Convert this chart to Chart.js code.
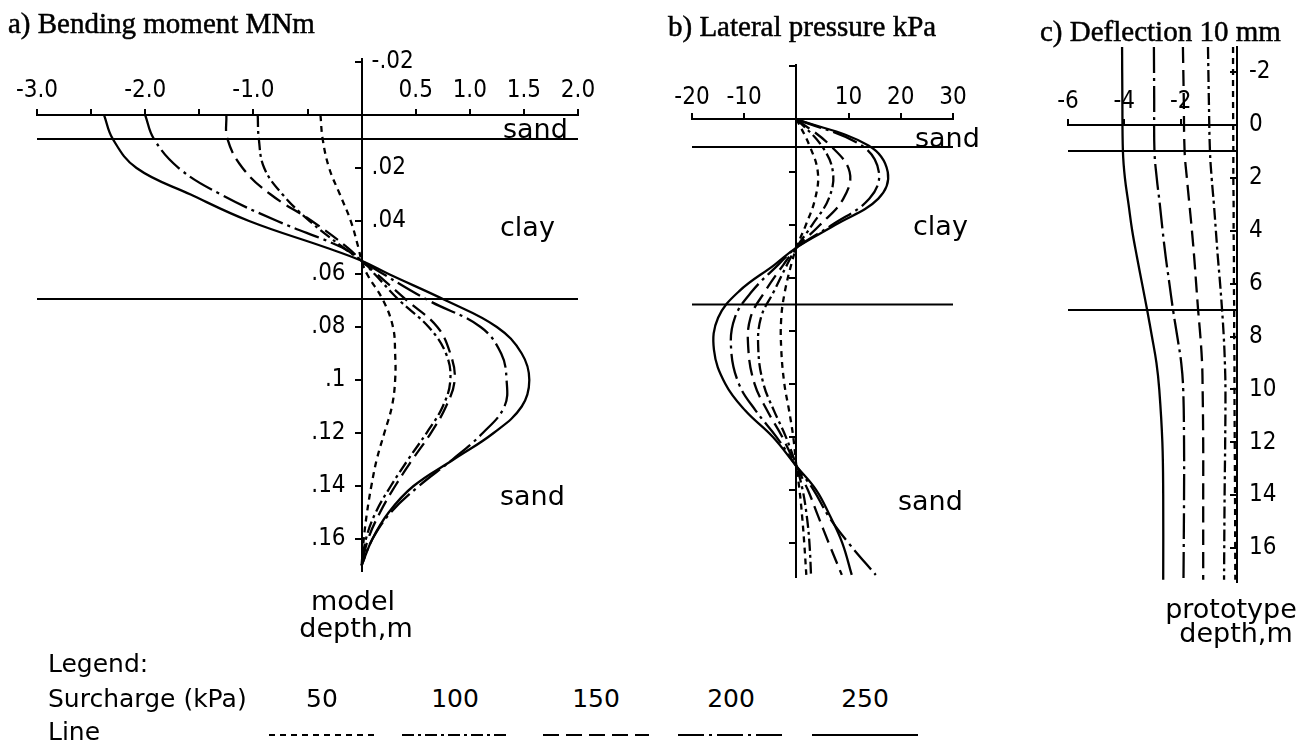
<!DOCTYPE html>
<html><head><meta charset="utf-8">
<script src="https://cdn.jsdelivr.net/npm/chart.js@4.4.1/dist/chart.umd.min.js"></script>
<style>
html,body{margin:0;padding:0;background:#fff;width:1308px;height:746px;overflow:hidden;position:relative}
canvas{position:absolute}
.t{position:absolute;white-space:nowrap;color:#000;line-height:1}
.title{font-family:'Liberation Serif','Times New Roman',serif;font-size:29px;line-height:29px;-webkit-text-stroke:0.5px #000}
.lbl{font-family:'DejaVu Sans',sans-serif;font-size:27px;line-height:27px}
.leg{font-family:'DejaVu Sans',sans-serif;font-size:25px;line-height:25px}
.c{transform:translateX(-50%)}
</style></head><body>
<canvas id="cA" width="640" height="660" style="left:0;top:0"></canvas>
<canvas id="cB" width="360" height="660" style="left:640px;top:0"></canvas>
<canvas id="cC" width="308" height="660" style="left:1000px;top:0"></canvas>
<canvas id="cL" width="1000" height="26" style="left:0;top:722px"></canvas>

<div class="t title" style="left:8px;top:9px">a) Bending moment MNm</div>
<div class="t title" style="left:668px;top:12px">b) Lateral pressure kPa</div>
<div class="t title" style="left:1040px;top:17px">c) Deflection 10 mm</div>

<div class="t lbl" style="left:503px;top:115px">sand</div>
<div class="t lbl" style="left:500px;top:213px">clay</div>
<div class="t lbl" style="left:500px;top:482px">sand</div>
<div class="t lbl" style="left:915px;top:124px">sand</div>
<div class="t lbl" style="left:913px;top:212px">clay</div>
<div class="t lbl" style="left:898px;top:487px">sand</div>
<div class="t lbl c" style="left:353px;top:587px">model</div>
<div class="t lbl c" style="left:356px;top:614px">depth,m</div>
<div class="t lbl c" style="left:1231px;top:595px">prototype</div>
<div class="t lbl c" style="left:1236px;top:619px">depth,m</div>

<div class="t leg" style="left:48px;top:651px">Legend:</div>
<div class="t leg" style="left:48px;top:686px">Surcharge (kPa)</div>
<div class="t leg" style="left:48px;top:719px">Line</div>
<div id="legNums"></div>

<script>
// ---------- data ----------
const surcharges = [50, 100, 150, 200, 250];
const lineDashes = [[6, 5], [12, 4, 3, 4], [16, 7], [26, 5, 3, 5], []];
const legendCenters = [322, 455, 596, 731, 865];

// a) Bending moment (MNm) vs model depth (m)
const depthA = [0, 0.009, 0.02, 0.03, 0.04, 0.05, 0.055, 0.06, 0.07, 0.08, 0.09, 0.10, 0.11, 0.12, 0.13, 0.14, 0.15, 0.16, 0.17];
const momA50  = [-0.38, -0.36, -0.30, -0.20, -0.10, -0.03, 0, 0.05, 0.20, 0.29, 0.31, 0.31, 0.28, 0.21, 0.14, 0.09, 0.05, 0.02, 0];
const momA100 = [-0.96, -0.95, -0.90, -0.73, -0.48, -0.17, 0, 0.12, 0.35, 0.62, 0.78, 0.82, 0.75, 0.60, 0.43, 0.27, 0.13, 0.04, 0];
const momA150 = [-1.25, -1.24, -1.10, -0.84, -0.46, -0.13, 0, 0.14, 0.42, 0.70, 0.82, 0.86, 0.78, 0.64, 0.47, 0.31, 0.17, 0.06, 0];
const momA200 = [-2.00, -1.92, -1.69, -1.30, -0.78, -0.18, 0, 0.20, 0.62, 1.10, 1.29, 1.34, 1.32, 1.12, 0.84, 0.53, 0.27, 0.10, 0];
const momA250 = [-2.38, -2.30, -2.08, -1.58, -1.04, -0.33, 0, 0.25, 0.78, 1.25, 1.48, 1.55, 1.48, 1.22, 0.85, 0.48, 0.25, 0.10, 0];
const layersA = [0.009, 0.0694];
const xTicksA = [-3, -2.5, -2, -1.5, -1, -0.5, 0, 0.5, 1, 1.5, 2];
const xLabelsA = ['-3.0', '', '-2.0', '', '-1.0', '', '', '0.5', '1.0', '1.5', '2.0'];
const yTicksA = [-0.02, 0, 0.02, 0.04, 0.06, 0.08, 0.10, 0.12, 0.14, 0.16];
const yLabelsA = ['-.02', '', '.02', '.04', '.06', '.08', '.1', '.12', '.14', '.16'];
const ySidesA = ['R', '', 'R', 'R', 'L', 'L', 'L', 'L', 'L', 'L'];

// b) Lateral pressure (kPa) vs prototype depth (m)
const depthB = [0, 1, 2, 3, 4, 4.85, 5.5, 6.5, 7.5, 8.7, 10, 11, 12, 13.1, 14, 15, 16, 17.2];
const presB50  = [0, 2.5, 4.1, 3.6, 1.8, 0, -1.0, -2.2, -2.9, -2.9, -2.3, -1.4, -0.6, 0, 0.6, 1.1, 1.5, 1.9];
const presB100 = [0, 4.8, 7.0, 6.2, 3.0, 0, -1.8, -4.3, -6.8, -7.3, -6.3, -4.3, -2.0, 0, 1.2, 2.0, 2.5, 2.8];
const presB150 = [0, 6.5, 10.2, 9.0, 4.5, 0, -2.5, -6.0, -8.8, -9.2, -8.0, -5.6, -2.7, 0, 2.2, 4.2, 6.2, 8.7];
const presB200 = [0, 12.5, 15.8, 14.0, 6.8, 0, -3.5, -8.5, -11.8, -12.5, -11.0, -7.8, -3.8, 0, 3.3, 6.2, 10.0, 15.2];
const presB250 = [0, 13.8, 17.5, 15.7, 7.4, 0, -4.2, -11.0, -15.0, -15.8, -13.6, -9.8, -4.5, 0, 3.8, 6.5, 8.8, 10.6];
const layersB = [1.05, 7.0];
const xTicksB = [-20, -10, 0, 10, 20, 30];
const xLabelsB = ['-20', '-10', '', '10', '20', '30'];
const yTicksB = [-2, 2, 4, 6, 8, 10, 12, 14, 16];

// c) Deflection (10 mm) vs prototype depth (m)
const depthC = [-2.95, -1, 1, 2, 3, 4, 5, 6, 7, 8, 9, 10, 12, 14, 17.2];
const deflC50  = [-0.14, -0.14, -0.13, -0.13, -0.12, -0.12, -0.11, -0.11, -0.10, -0.10, -0.09, -0.09, -0.08, -0.07, -0.06];
const deflC100 = [-1.03, -1.00, -0.96, -0.90, -0.82, -0.75, -0.68, -0.60, -0.53, -0.47, -0.43, -0.41, -0.42, -0.44, -0.46];
const deflC150 = [-1.92, -1.89, -1.86, -1.78, -1.69, -1.60, -1.52, -1.45, -1.38, -1.30, -1.24, -1.22, -1.20, -1.20, -1.20];
const deflC200 = [-2.95, -2.94, -2.93, -2.85, -2.74, -2.64, -2.53, -2.40, -2.27, -2.12, -1.98, -1.91, -1.88, -1.88, -1.90];
const deflC250 = [-4.08, -4.07, -4.05, -3.98, -3.85, -3.72, -3.55, -3.37, -3.19, -3.02, -2.86, -2.76, -2.65, -2.62, -2.62];
const layersC = [0.98, 7.0];
const xTicksC = [-6, -4, -2, 0];
const xLabelsC = ['-6', '-4', '-2', ''];
const yTicksC = [-2, 0, 2, 4, 6, 8, 10, 12, 14, 16];
const yLabelsC = ['-2', '0', '2', '4', '6', '8', '10', '12', '14', '16'];
const ySidesC = ['R', 'R', 'R', 'R', 'R', 'R', 'R', 'R', 'R', 'R'];

// ---------- drawing ----------
const NUM_FONT = "'DejaVu Sans Condensed','Liberation Sans Narrow','DejaVu Sans',sans-serif";
const NUM_SIZE = 24;

const depthLabelPlugin = {
  id: 'depthLabels',
  afterDraw(chart, args, opts) {
    if (!opts || !opts.values || !opts.values.length) return;
    const ctx = chart.ctx;
    const xs = chart.scales.x, ys = chart.scales.y;
    const x0 = xs.getPixelForValue(0);
    ctx.save();
    ctx.font = NUM_SIZE + 'px ' + NUM_FONT;
    ctx.fillStyle = '#000';
    ctx.textBaseline = 'middle';
    opts.values.forEach((v, i) => {
      const side = opts.sides[i];
      if (!side || !opts.texts[i]) return;
      const y = ys.getPixelForValue(v);
      if (side === 'L') { ctx.textAlign = 'right'; ctx.fillText(opts.texts[i], x0 - opts.gapL, y); }
      else { ctx.textAlign = 'left'; ctx.fillText(opts.texts[i], x0 + opts.gapR, y); }
    });
    ctx.restore();
  }
};

function curveSets(depth, seriesList, xmin, xmax, layers) {
  const sets = [];
  layers.forEach(d => sets.push({
    data: [{x: xmin, y: d}, {x: xmax, y: d}],
    showLine: true, borderColor: '#000', borderWidth: 2, pointRadius: 0, tension: 0
  }));
  seriesList.forEach((vals, i) => sets.push({
    label: surcharges[i] + ' kPa',
    data: vals.map((v, k) => ({x: v, y: depth[k]})),
    showLine: true, borderColor: '#000', borderWidth: 2.3, borderDash: lineDashes[i],
    pointRadius: 0, tension: 0.4, borderCapStyle: 'butt'
  }));
  return sets;
}

function makePanel(id, cfg) {
  return new Chart(document.getElementById(id), {
    type: 'scatter',
    data: {datasets: curveSets(cfg.depth, cfg.series, cfg.xmin, cfg.xmax, cfg.layers)},
    options: {
      responsive: false, animation: false, events: [],
      layout: {padding: cfg.padding},
      plugins: {
        legend: {display: false}, tooltip: {enabled: false},
        depthLabels: cfg.labels
      },
      scales: {
        x: {
          type: 'linear', min: cfg.xmin, max: cfg.xmax, position: {y: 0},
          afterBuildTicks: s => { s.ticks = cfg.xTicks.map(v => ({value: v})); },
          ticks: {autoSkip: false, maxRotation: 0, minRotation: 0, color: '#000',
                  font: {family: NUM_FONT, size: NUM_SIZE},
                  padding: cfg.xPad,
                  callback: (v, i) => cfg.xLabels[i]},
          grid: {drawOnChartArea: false, drawTicks: true, tickLength: -7, color: '#000', lineWidth: 2},
          border: {display: true, color: '#000', width: 2}
        },
        y: {
          type: 'linear', reverse: true, min: cfg.ymin, max: cfg.ymax, position: {x: 0},
          afterBuildTicks: s => { s.ticks = cfg.yTicks.map(v => ({value: v})); },
          ticks: {display: false},
          grid: {drawOnChartArea: false, drawTicks: true, tickLength: 6, color: '#000', lineWidth: 2},
          border: {display: true, color: '#000', width: 2}
        }
      }
    },
    plugins: [depthLabelPlugin]
  });
}

makePanel('cA', {
  depth: depthA, series: [momA50, momA100, momA150, momA200, momA250],
  xmin: -3, xmax: 2, ymin: -0.021, ymax: 0.172, layers: layersA,
  xTicks: xTicksA, xLabels: xLabelsA, yTicks: yTicksA, xPad: -32,
  padding: {left: 37, right: 62, top: 59.4, bottom: 89.2},
  labels: {values: yTicksA, texts: yLabelsA, sides: ySidesA, gapL: 16, gapR: 10}
});
makePanel('cB', {
  depth: depthB, series: [presB50, presB100, presB150, presB200, presB250],
  xmin: -20, xmax: 30, ymin: -2.04, ymax: 17.28, layers: layersB,
  xTicks: xTicksB, xLabels: xLabelsB, yTicks: yTicksB, xPad: -29,
  padding: {left: 52, right: 47, top: 65, bottom: 83},
  labels: {values: [], texts: [], sides: []}
});
makePanel('cC', {
  depth: depthC, series: [deflC50, deflC100, deflC150, deflC200, deflC250],
  xmin: -6, xmax: 0, ymin: -2.95, ymax: 17.3, layers: layersC,
  xTicks: xTicksC, xLabels: xLabelsC, yTicks: yTicksC, xPad: -31,
  padding: {left: 68, right: 71, top: 47, bottom: 77.6},
  labels: {values: yTicksC, texts: yLabelsC, sides: ySidesC, gapL: 12, gapR: 12}
});

// legend numbers and line samples
const legNums = document.getElementById('legNums');
surcharges.forEach((s, i) => {
  const d = document.createElement('div');
  d.className = 't leg c';
  d.style.left = legendCenters[i] + 'px';
  d.style.top = '686px';
  d.textContent = String(s);
  legNums.appendChild(d);
});
const lctx = document.getElementById('cL').getContext('2d');
lctx.strokeStyle = '#000'; lctx.lineWidth = 2;
surcharges.forEach((s, i) => {
  lctx.setLineDash(lineDashes[i]);
  lctx.beginPath();
  lctx.moveTo(legendCenters[i] - 53, 13);
  lctx.lineTo(legendCenters[i] + 53, 13);
  lctx.stroke();
});
</script>
</body></html>
